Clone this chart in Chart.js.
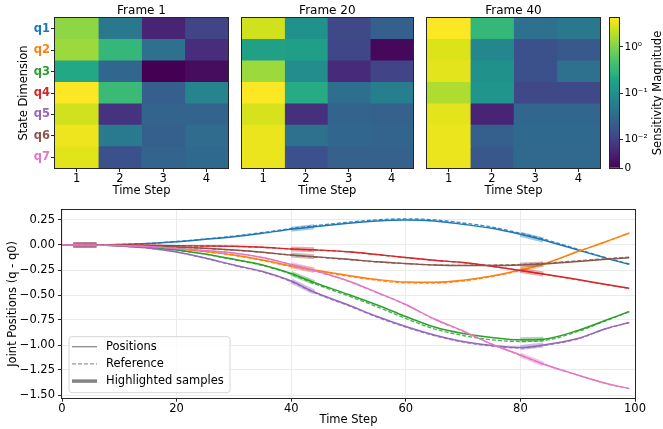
<!DOCTYPE html>
<html>
<head>
<meta charset="utf-8">
<script src="https://cdn.jsdelivr.net/npm/chart.js@4.4.1/dist/chart.umd.min.js"></script>
<style>
  html, body { margin: 0; padding: 0; background: #fff; }
  #wrap { position: relative; width: 663px; height: 429px; overflow: hidden; background: #fff; }
  canvas { position: absolute; }
</style>
</head>
<body>
<div id="wrap">
  <canvas id="frame1" width="232" height="200" style="left:0px;top:0px"></canvas>
  <canvas id="frame20" width="182" height="200" style="left:236px;top:0px"></canvas>
  <canvas id="frame40" width="185" height="200" style="left:420px;top:0px"></canvas>
  <canvas id="cbar" width="63" height="200" style="left:600px;top:0px"></canvas>
  <canvas id="lines" width="663" height="229" style="left:0px;top:200px"></canvas>
</div>
<script>
// --- heatmap data (sensitivity magnitude, rows q1..q7, cols time step 1..4) ---
var joints = ['q1', 'q2', 'q3', 'q4', 'q5', 'q6', 'q7'];
var timeSteps = [1, 2, 3, 4];
var sensFrame1 = [
  [1.19, 0.047, 0.0052, 0.0105],
  [1.38, 0.31, 0.038, 0.0067],
  [0.21, 0.028, 0, 0.0016],
  [4.2, 0.36, 0.022, 0.069],
  [2.5, 0.0078, 0.026, 0.026],
  [3.6, 0.051, 0.022, 0.032],
  [3.1, 0.015, 0.026, 0.03]
];
var sensFrame20 = [
  [2.5, 0.1, 0.012, 0.022],
  [0.17, 0.157, 0.0114, 0.001],
  [1.38, 0.086, 0.0062, 0.0105],
  [4.2, 0.23, 0.035, 0.059],
  [2.7, 0.0073, 0.026, 0.024],
  [3.4, 0.038, 0.028, 0.026],
  [3.4, 0.015, 0.024, 0.024]
];
var sensFrame40 = [
  [4.2, 0.31, 0.038, 0.047],
  [2.9, 0.074, 0.015, 0.019],
  [3.15, 0.1, 0.015, 0.038],
  [1.73, 0.116, 0.012, 0.012],
  [3.15, 0.0052, 0.028, 0.028],
  [3.4, 0.022, 0.03, 0.03],
  [3.4, 0.018, 0.03, 0.03]
];
var cbarMin = 0;
var cbarMax = 4.26;
var cbarTicks = [0, 0.01, 0.1, 1];
var cbarTickLabels = ['0', '10\u207B\u00B2', '10\u207B\u00B9', '10\u2070'];

// --- joint trajectories (q - q0), sampled at these time steps ---
var steps = [0, 2, 6, 10, 15, 20, 25, 30, 35, 40, 44, 50, 55, 60, 65, 70, 75, 80, 84, 90, 95, 99];
var posQ1 = [0, 0, 0.001, 0.005, 0.015, 0.033, 0.057, 0.083, 0.117, 0.157, 0.183, 0.217, 0.24, 0.25, 0.24, 0.207, 0.167, 0.107, 0.05, -0.05, -0.133, -0.193];
var refQ1 = [0, 0, 0.001, 0.006, 0.016, 0.035, 0.06, 0.09, 0.125, 0.165, 0.192, 0.228, 0.252, 0.262, 0.252, 0.22, 0.18, 0.117, 0.06, -0.042, -0.128, -0.19];
var posQ2 = [0, 0, -0.001, -0.005, -0.015, -0.037, -0.065, -0.1, -0.15, -0.21, -0.25, -0.305, -0.345, -0.37, -0.372, -0.352, -0.31, -0.25, -0.19, -0.065, 0.035, 0.12];
var refQ2 = [0, 0, -0.001, -0.005, -0.016, -0.039, -0.068, -0.104, -0.155, -0.216, -0.257, -0.313, -0.354, -0.379, -0.38, -0.36, -0.316, -0.255, -0.194, -0.067, 0.034, 0.12];
var posQ3 = [0, 0, 0, -0.007, -0.022, -0.05, -0.09, -0.143, -0.2, -0.285, -0.375, -0.495, -0.6, -0.715, -0.82, -0.885, -0.925, -0.948, -0.942, -0.855, -0.75, -0.665];
var refQ3 = [0, 0, 0, -0.007, -0.022, -0.051, -0.092, -0.146, -0.205, -0.292, -0.386, -0.51, -0.618, -0.735, -0.84, -0.905, -0.948, -0.965, -0.957, -0.865, -0.756, -0.668];
var posQ4 = [0, 0, 0, 0, -0.003, -0.008, -0.01, -0.013, -0.022, -0.04, -0.048, -0.067, -0.095, -0.125, -0.152, -0.175, -0.212, -0.255, -0.29, -0.345, -0.395, -0.433];
var refQ4 = [0, 0, 0, 0, -0.003, -0.008, -0.011, -0.014, -0.023, -0.041, -0.05, -0.069, -0.097, -0.127, -0.154, -0.177, -0.213, -0.256, -0.291, -0.346, -0.396, -0.434];
var posQ5 = [0, 0, 0, -0.01, -0.03, -0.07, -0.13, -0.2, -0.265, -0.36, -0.47, -0.6, -0.715, -0.815, -0.9, -0.965, -1.005, -1.025, -1.0, -0.935, -0.835, -0.775];
var refQ5 = [0, 0, 0, -0.01, -0.031, -0.072, -0.133, -0.204, -0.27, -0.366, -0.477, -0.607, -0.722, -0.822, -0.907, -0.971, -1.01, -1.03, -1.006, -0.94, -0.838, -0.777];
var posQ6 = [0, 0, 0, -0.002, -0.01, -0.02, -0.033, -0.05, -0.072, -0.1, -0.117, -0.143, -0.168, -0.185, -0.2, -0.205, -0.205, -0.2, -0.19, -0.165, -0.143, -0.127];
var refQ6 = [0, 0, 0, -0.002, -0.01, -0.021, -0.034, -0.052, -0.074, -0.102, -0.12, -0.146, -0.17, -0.187, -0.2, -0.203, -0.201, -0.195, -0.184, -0.158, -0.137, -0.122];
var posQ7 = [0, 0, -0.001, -0.005, -0.015, -0.035, -0.055, -0.08, -0.125, -0.195, -0.255, -0.36, -0.475, -0.595, -0.74, -0.86, -0.99, -1.1, -1.19, -1.3, -1.385, -1.435];
var refQ7 = [0, 0, -0.001, -0.005, -0.016, -0.036, -0.057, -0.083, -0.128, -0.199, -0.259, -0.364, -0.479, -0.599, -0.744, -0.864, -0.993, -1.103, -1.192, -1.302, -1.386, -1.437];
var highlightWindows = [[2, 6], [40, 44], [80, 84]];
var xTicks = [0, 20, 40, 60, 80, 100];
var yTicks = [0.25, 0, -0.25, -0.5, -0.75, -1, -1.25, -1.5];

var positions = [posQ1, posQ2, posQ3, posQ4, posQ5, posQ6, posQ7];
var references = [refQ1, refQ2, refQ3, refQ4, refQ5, refQ6, refQ7];
var jointColors = ['#1f77b4', '#ff7f0e', '#2ca02c', '#d62728', '#9467bd', '#8c564b', '#e377c2'];

Chart.defaults.font.family = '"DejaVu Sans", sans-serif';
Chart.defaults.font.size = 11.5;
Chart.defaults.color = '#000';

// viridis stops, 0 .. 1 in steps of 0.05
var viridis = ['#440154', '#471365', '#482475', '#46337f', '#414487', '#3b528b', '#355f8d', '#2f6c8e',
  '#2a788e', '#25848e', '#21918c', '#1e9c89', '#22a884', '#35b779', '#44bf70', '#5ec962', '#7ad151',
  '#9bd93c', '#bddf26', '#dde318', '#fde725'];

function hexRgb(h) {
  return [parseInt(h.substr(1, 2), 16), parseInt(h.substr(3, 2), 16), parseInt(h.substr(5, 2), 16)];
}

function viridisColor(t) {
  var p = Math.max(0, Math.min(1, t)) * (viridis.length - 1);
  var i = Math.min(Math.floor(p), viridis.length - 2);
  var f = p - i;
  var a = hexRgb(viridis[i]), b = hexRgb(viridis[i + 1]);
  return 'rgb(' + [0, 1, 2].map(function (k) { return Math.round(a[k] + (b[k] - a[k]) * f); }).join(',') + ')';
}

// symlog-like scale used by the colorbar (linear below 0.01, log above)
function symlogNorm(v) {
  var t = v <= 0.01 ? 0.193 * v / 0.01 : 0.193 + 0.307 * Math.log10(v / 0.01);
  return Math.max(0, Math.min(1, t));
}

// black frame around the plot area (matplotlib spines)
var framePlugin = {
  id: 'frame',
  afterDatasetsDraw: function (chart) {
    var a = chart.chartArea, ctx = chart.ctx;
    ctx.save();
    ctx.strokeStyle = '#262626';
    ctx.lineWidth = 1;
    ctx.strokeRect(Math.round(a.left) - 0.5, Math.round(a.top) - 0.5,
      Math.round(a.right) - Math.round(a.left) + 1, Math.round(a.bottom) - Math.round(a.top) + 1);
    ctx.restore();
  }
};

function makeHeatmap(id, title, sens, showY, padLeft, padRight) {
  var datasets = timeSteps.map(function (ts, c) {
    return {
      data: joints.map(function () { return [ts - 0.5, ts + 0.5]; }),
      backgroundColor: joints.map(function (q, r) { return viridisColor(symlogNorm(sens[r][c])); }),
      borderWidth: 0,
      barPercentage: 1,
      categoryPercentage: 1,
      grouped: false
    };
  });
  return new Chart(document.getElementById(id), {
    type: 'bar',
    data: { labels: joints, datasets: datasets },
    options: {
      indexAxis: 'y',
      responsive: false,
      animation: false,
      devicePixelRatio: 1,
      layout: { padding: { left: padLeft, right: padRight, top: 0, bottom: 0 } },
      plugins: {
        legend: { display: false },
        tooltip: { enabled: false },
        title: {
          display: true, text: title, fullSize: false, color: '#000',
          font: { size: 12, weight: 'normal' }, padding: { top: 3.2, bottom: 0.4 }
        }
      },
      scales: {
        x: {
          type: 'linear', min: 0.5, max: 4.5,
          afterBuildTicks: function (s) { s.ticks = timeSteps.map(function (v) { return { value: v }; }); },
          afterFit: function (s) { s.height = 32; },
          grid: { drawOnChartArea: false, tickLength: 4, tickColor: '#262626' },
          border: { display: false },
          ticks: { padding: 0, autoSkip: false, maxRotation: 0, callback: function (v) { return String(v); } },
          title: { display: true, text: 'Time Step', padding: { top: 0, bottom: 2.2 } }
        },
        y: {
          display: showY,
          afterFit: function (s) { s.width = showY ? 55 : 0; },
          grid: { drawOnChartArea: false, offset: false, tickLength: 4, tickColor: '#262626' },
          border: { display: false },
          ticks: {
            padding: 1,
            color: function (ctx) { return jointColors[ctx.index]; },
            font: { weight: 'bold', size: 11.5 }
          },
          title: { display: true, text: 'State Dimension', padding: { top: 17, bottom: 0 } }
        }
      }
    },
    plugins: [framePlugin]
  });
}

makeHeatmap('frame1', 'Frame 1', sensFrame1, true, 0, 4);
makeHeatmap('frame20', 'Frame 20', sensFrame20, false, 5.7, 5);
makeHeatmap('frame40', 'Frame 40', sensFrame40, false, 7, 5);

// --- colorbar ---
var cbarTitlePlugin = {
  id: 'cbarTitle',
  afterDraw: function (chart) {
    var a = chart.chartArea, ctx = chart.ctx;
    ctx.save();
    ctx.translate(a.right + 39, (a.top + a.bottom) / 2);
    ctx.rotate(-Math.PI / 2);
    ctx.font = '11.5px "DejaVu Sans"';
    ctx.fillStyle = '#000';
    ctx.textAlign = 'center';
    ctx.textBaseline = 'middle';
    ctx.fillText('Sensitivity Magnitude', 0, 0);
    ctx.restore();
  }
};

new Chart(document.getElementById('cbar'), {
  type: 'bar',
  data: {
    labels: ['cb'],
    datasets: [{
      data: [[symlogNorm(cbarMin), symlogNorm(cbarMax)]],
      backgroundColor: function (ctx) {
        var a = ctx.chart.chartArea;
        if (!a) return viridis[0];
        var g = ctx.chart.ctx.createLinearGradient(0, a.bottom, 0, a.top);
        viridis.forEach(function (c, i) { g.addColorStop(i / (viridis.length - 1), c); });
        return g;
      },
      borderWidth: 0,
      barPercentage: 1,
      categoryPercentage: 1
    }]
  },
  options: {
    responsive: false,
    animation: false,
    devicePixelRatio: 1,
    layout: { padding: { left: 10, right: 0, top: 18, bottom: 32 } },
    plugins: { legend: { display: false }, tooltip: { enabled: false } },
    scales: {
      x: { display: false },
      y: {
        type: 'linear', position: 'right', min: 0, max: 1,
        afterBuildTicks: function (s) { s.ticks = cbarTicks.map(function (v) { return { value: symlogNorm(v) }; }); },
        afterFit: function (s) { s.width = 44; },
        grid: { drawOnChartArea: false, tickLength: 4, tickColor: '#262626' },
        border: { display: false },
        ticks: { padding: 1.5, autoSkip: false, font: { size: 10.5 }, callback: function (v, i) { return cbarTickLabels[i]; } }
      }
    }
  },
  plugins: [framePlugin, cbarTitlePlugin]
});

// --- joint position lines ---
function toPoints(arr) {
  return steps.map(function (s, i) { return { x: s, y: arr[i] }; });
}

function highlightPoints(arr) {
  var out = [];
  highlightWindows.forEach(function (w) {
    steps.forEach(function (s, i) {
      if (s >= w[0] && s <= w[1]) out.push({ x: s, y: arr[i] });
    });
    out.push({ x: w[1] + 1, y: null });
  });
  return out;
}

function alpha(hex, a) {
  var c = hexRgb(hex);
  return 'rgba(' + c[0] + ',' + c[1] + ',' + c[2] + ',' + a + ')';
}

var lineSets = [];
joints.forEach(function (q, k) {
  lineSets.push({
    label: q, data: toPoints(positions[k]), borderColor: jointColors[k],
    borderWidth: 1.4, pointRadius: 0, cubicInterpolationMode: 'monotone'
  });
  lineSets.push({
    label: q + ' ref', data: toPoints(references[k]), borderColor: alpha(jointColors[k], 0.85),
    borderWidth: 1.3, borderDash: [4, 2], pointRadius: 0, cubicInterpolationMode: 'monotone'
  });
  lineSets.push({
    label: q + ' hl', data: highlightPoints(positions[k]), borderColor: alpha(jointColors[k], 0.4),
    borderWidth: 5, borderCapStyle: 'butt', pointRadius: 0, spanGaps: false
  });
});
// chart.js draws the first dataset on top, matplotlib the last one
lineSets.reverse();

var legendEntries = [
  { text: 'Positions', dash: [], width: 1.3, color: 'rgba(128,128,128,0.9)' },
  { text: 'Reference', dash: [4, 2], width: 1.2, color: 'rgba(128,128,128,0.8)' },
  { text: 'Highlighted samples', dash: [], width: 3.5, color: 'rgba(110,110,110,0.85)' }
];

var boxLegendPlugin = {
  id: 'boxLegend',
  afterDraw: function (chart) {
    var a = chart.chartArea, ctx = chart.ctx;
    var x = a.left + 7, y = a.bottom - 61, w = 161, h = 56, r = 3;
    ctx.save();
    ctx.beginPath();
    ctx.moveTo(x + r, y);
    ctx.arcTo(x + w, y, x + w, y + h, r);
    ctx.arcTo(x + w, y + h, x, y + h, r);
    ctx.arcTo(x, y + h, x, y, r);
    ctx.arcTo(x, y, x + w, y, r);
    ctx.closePath();
    ctx.fillStyle = 'rgba(255,255,255,0.85)';
    ctx.fill();
    ctx.strokeStyle = '#d6d6d6';
    ctx.lineWidth = 1;
    ctx.stroke();
    ctx.font = '11.5px "DejaVu Sans"';
    ctx.textBaseline = 'middle';
    ctx.fillStyle = '#000';
    legendEntries.forEach(function (e, i) {
      var cy = y + 10 + i * 17.2;
      ctx.beginPath();
      ctx.setLineDash(e.dash);
      ctx.strokeStyle = e.color;
      ctx.lineWidth = e.width;
      ctx.moveTo(x + 3, cy);
      ctx.lineTo(x + 28, cy);
      ctx.stroke();
      ctx.setLineDash([]);
      ctx.fillText(e.text, x + 37, cy);
    });
    ctx.restore();
  }
};

new Chart(document.getElementById('lines'), {
  type: 'line',
  data: { datasets: lineSets },
  options: {
    responsive: false,
    animation: false,
    devicePixelRatio: 1,
    layout: { padding: { left: 0, right: 28, top: 10, bottom: 0 } },
    plugins: { legend: { display: false }, tooltip: { enabled: false } },
    scales: {
      x: {
        type: 'linear', min: 0, max: 100,
        afterBuildTicks: function (s) { s.ticks = xTicks.map(function (v) { return { value: v }; }); },
        afterFit: function (s) { s.height = 31.3; },
        grid: { color: '#ebebeb', tickColor: '#262626', tickLength: 4 },
        border: { display: false },
        ticks: { padding: 0, autoSkip: false, maxRotation: 0 },
        title: { display: true, text: 'Time Step', padding: { top: 0, bottom: 2.2 } }
      },
      y: {
        type: 'linear', min: -1.527, max: 0.35,
        afterBuildTicks: function (s) { s.ticks = yTicks.map(function (v) { return { value: v }; }); },
        afterFit: function (s) { s.width = 62; },
        grid: { color: '#ebebeb', tickColor: '#262626', tickLength: 4 },
        border: { display: false },
        ticks: {
          padding: 3, autoSkip: false,
          callback: function (v) { return v.toFixed(2).replace('-', '\u2212'); }
        },
        title: { display: true, text: 'Joint Positions (q - q0)', padding: { top: 6, bottom: 0 } }
      }
    }
  },
  plugins: [framePlugin, boxLegendPlugin]
});
</script>
</body>
</html>
